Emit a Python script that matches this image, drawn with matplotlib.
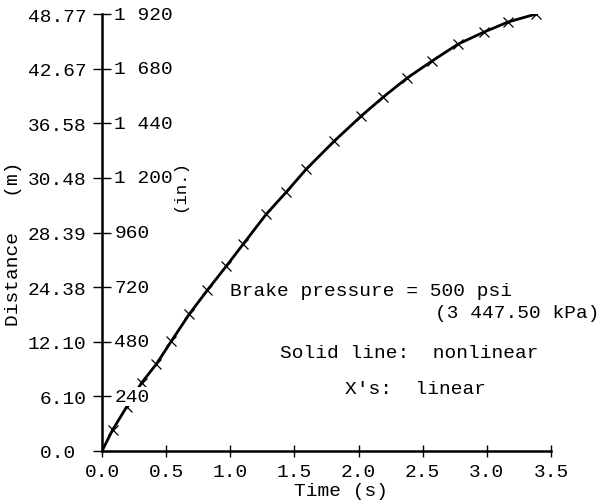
import matplotlib

matplotlib.use("Agg")
import matplotlib.pyplot as plt


# time (s) and distance (in.)
time_s = [0.082, 0.191, 0.308, 0.424, 0.541, 0.681, 0.822, 0.970, 1.102, 1.281,
          1.437, 1.593, 1.811, 2.021, 2.192, 2.379, 2.574, 2.776, 2.979, 3.166, 3.384]
dist_in = [92, 193, 299, 382, 483, 602, 707, 813, 910, 1041,
           1138, 1239, 1362, 1472, 1555, 1639, 1714, 1788, 1841, 1885, 1920]

x_ticks = [0.0, 0.5, 1.0, 1.5, 2.0, 2.5, 3.0, 3.5]
x_tick_labels = ["0.0", "0.5", "1.0", "1.5", "2.0", "2.5", "3.0", "3.5"]
y_ticks_in = [0, 240, 480, 720, 960, 1200, 1440, 1680, 1920]
y_labels_m = ["0.0 ", "6.10", "12.10", "24.38", "28.39", "30.48", "36.58", "42.67", "48.77"]
y_labels_in = ["", "240", "480", "720", "960", "1 200", "1 440", "1 680", "1 920"]

FONT = ["Liberation Mono", "DejaVu Sans Mono"]
FS = 14

plt.rcParams["font.family"] = FONT
plt.rcParams["font.size"] = FS

fig = plt.figure(figsize=(5.99, 5.02), dpi=100)
ax = fig.add_axes([102 / 599, 50 / 502, 449 / 599, 437 / 502])

# solid line starts at the origin, X's sit on it
ax.plot([0.0] + time_s, [0] + dist_in, color="black", linewidth=2.0, zorder=2)
ax.plot(time_s, dist_in, linestyle="none", marker="x", markersize=7.5,
        markeredgewidth=0.9, color="black", zorder=2)

ax.set_xlim(0, 3.5)
ax.set_ylim(0, 1920)
for side in ("top", "right"):
    ax.spines[side].set_visible(False)
for side in ("left", "bottom"):
    ax.spines[side].set_linewidth(1.8)

ax.set_xticks(x_ticks)
ax.set_xticklabels(x_tick_labels)
ax.set_yticks(y_ticks_in)
ax.set_yticklabels(y_labels_m)
ax.tick_params(axis="x", direction="inout", length=8, width=1, pad=5)
ax.tick_params(axis="y", direction="inout", length=13, width=1, pad=4.5)

# inch labels sit just right of the left spine
for val, lab in zip(y_ticks_in, y_labels_in):
    if not lab:
        continue
    ax.text(0.095, val, lab, ha="left", va="center", fontsize=FS, zorder=3,
            bbox=dict(facecolor="white", edgecolor="none", pad=0.5))

ax.set_xlabel("Time (s)", fontsize=FS)
ax.xaxis.set_label_coords((341 - 102) / 449, -0.072)

fig.text(14 / 599, 1 - 244 / 502, "Distance   (m)", rotation=90,
         ha="center", va="center", fontsize=FS)
fig.text(180 / 599, 1 - 186 / 502, "(in.)", rotation=90,
         ha="center", va="center", fontsize=FS - 1.5)

fig.text(230 / 599, 1 - 291 / 502, "Brake pressure = 500 psi", ha="left", va="center", fontsize=FS)
fig.text(435 / 599, 1 - 313 / 502, "(3 447.50 kPa)", ha="left", va="center", fontsize=FS)
fig.text(280 / 599, 1 - 353 / 502, "Solid line:  nonlinear", ha="left", va="center", fontsize=FS)
fig.text(345 / 599, 1 - 390 / 502, "X's:  linear", ha="left", va="center", fontsize=FS)

fig.savefig("out.png", dpi=100)
plt.close(fig)
